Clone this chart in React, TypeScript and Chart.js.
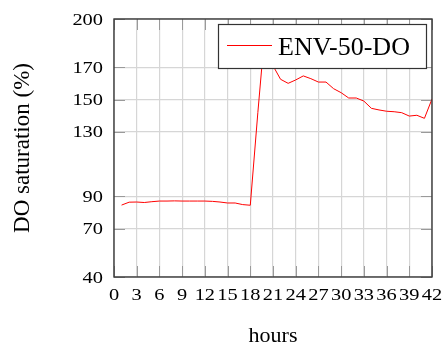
import { useEffect, useRef } from "react";
import { Chart, registerables } from "chart.js";

Chart.register(...registerables);

// Dissolved-oxygen saturation logged every hour
const hours = [
  1, 2, 3, 4, 5, 6, 7, 8, 9, 10, 11, 12, 13, 14, 15, 16, 17, 18, 19, 20, 21,
  22, 23, 24, 25, 26, 27, 28, 29, 30, 31, 32, 33, 34, 35, 36, 37, 38, 39, 40,
  41, 42,
];
const doSaturation = [
  84.6, 86.4, 86.5, 86.2, 86.7, 87.1, 87.1, 87.2, 87.1, 87.1, 87.1, 87.1, 86.9,
  86.5, 85.9, 85.9, 84.9, 84.5, 142, 196, 171, 162.6, 160.1, 162.2, 164.7,
  163.0, 160.9, 160.9, 156.8, 154.3, 151.0, 151.0, 149.1, 144.6, 143.6, 142.8,
  142.5, 141.9, 139.8, 140.3, 138.4, 150.4,
];
const xTicks = [0, 3, 6, 9, 12, 15, 18, 21, 24, 27, 30, 33, 36, 39, 42];
const yTicks = [40, 70, 90, 130, 150, 170, 200];
const seriesLabel = "ENV-50-DO";
const xTitle = "hours";
const yTitle = "DO saturation (%)";

const SERIF = "'Liberation Serif', 'Times New Roman', serif";

// draws a tick label with slightly widened digits
function wideText(ctx: CanvasRenderingContext2D, text: string, x: number, y: number) {
  ctx.save();
  ctx.translate(x, y);
  ctx.scale(1.2, 1);
  ctx.fillText(text, 0, 0);
  ctx.restore();
}

// pgfplots-like frame: inner tick marks on all four sides and a closed box
const framePlugin = {
  id: "frame",
  beforeDatasetsDraw(chart: any) {
    const { ctx, chartArea: a, scales } = chart;
    const len = 11;
    ctx.save();
    ctx.strokeStyle = "#9a9a9a";
    ctx.lineWidth = 1;
    ctx.beginPath();
    xTicks.forEach((v) => {
      const x = Math.round(scales.x.getPixelForValue(v)) + 0.5;
      ctx.moveTo(x, a.bottom);
      ctx.lineTo(x, a.bottom - len);
      ctx.moveTo(x, a.top);
      ctx.lineTo(x, a.top + len);
    });
    yTicks.forEach((v) => {
      const y = Math.round(scales.y.getPixelForValue(v)) + 0.5;
      ctx.moveTo(a.left, y);
      ctx.lineTo(a.left + len, y);
      ctx.moveTo(a.right, y);
      ctx.lineTo(a.right - len, y);
    });
    ctx.stroke();
    ctx.restore();
  },
  afterDatasetsDraw(chart: any) {
    const { ctx, chartArea: a, scales } = chart;
    ctx.save();
    ctx.strokeStyle = "#3a3a3a";
    ctx.lineWidth = 1.4;
    ctx.strokeRect(a.left, a.top, a.right - a.left, a.bottom - a.top);

    // tick labels
    ctx.fillStyle = "#000";
    ctx.font = `17px ${SERIF}`;
    ctx.textBaseline = "alphabetic";
    ctx.textAlign = "center";
    xTicks.forEach((v) => {
      wideText(ctx, String(v), scales.x.getPixelForValue(v), a.bottom + 23);
    });
    ctx.textAlign = "right";
    yTicks.forEach((v) => {
      wideText(ctx, String(v), a.left - 11, scales.y.getPixelForValue(v) + 5.5);
    });

    // legend box in the upper right corner of the plot
    const ds = chart.data.datasets[0];
    const bx = 218, by = 24, bw = 208, bh = 44;
    ctx.fillStyle = "#ffffff";
    ctx.fillRect(bx, by, bw, bh);
    ctx.strokeStyle = "#333333";
    ctx.lineWidth = 1.2;
    ctx.strokeRect(bx + 0.5, by + 0.5, bw, bh);
    ctx.strokeStyle = ds.borderColor;
    ctx.lineWidth = 1;
    ctx.beginPath();
    ctx.moveTo(bx + 9, by + 21.5);
    ctx.lineTo(bx + 54, by + 21.5);
    ctx.stroke();
    ctx.fillStyle = "#000";
    ctx.font = `26px ${SERIF}`;
    ctx.textAlign = "left";
    ctx.fillText(ds.label, bx + 60, by + 31);

    // axis titles
    ctx.font = `22px ${SERIF}`;
    ctx.textAlign = "center";
    ctx.fillText(xTitle, (a.left + a.right) / 2, 342);
    ctx.font = `23px ${SERIF}`;
    ctx.translate(29, (a.top + a.bottom) / 2);
    ctx.rotate(-Math.PI / 2);
    ctx.fillText(yTitle, 0, 0);
    ctx.restore();
  },
};

export default function App() {
  const ref = useRef<HTMLCanvasElement>(null);

  useEffect(() => {
    document.body.style.margin = "0";
    const canvas = ref.current;
    if (!canvas) return;
    const chart = new Chart(canvas, {
      type: "line",
      data: {
        datasets: [
          {
            label: seriesLabel,
            data: hours.map((h, i) => ({ x: h, y: doSaturation[i] })),
            borderColor: "#ff0000",
            borderWidth: 1,
            pointRadius: 0,
            tension: 0,
            fill: false,
          },
        ],
      },
      options: {
        responsive: false,
        animation: false,
        devicePixelRatio: 1,
        layout: { padding: { top: 19, right: 12, left: 0, bottom: 0 } },
        plugins: {
          legend: { display: false },
          tooltip: { enabled: false },
        },
        scales: {
          x: {
            type: "linear",
            min: 0,
            max: 42,
            afterBuildTicks: (s: any) => {
              s.ticks = xTicks.map((v) => ({ value: v }));
            },
            afterFit: (s: any) => {
              s.height = 68;
            },
            grid: { color: "#d6d6d6", lineWidth: 1.2, drawTicks: false },
            border: { display: false },
            ticks: { display: false },
          },
          y: {
            type: "linear",
            min: 40,
            max: 200,
            afterBuildTicks: (s: any) => {
              s.ticks = yTicks.map((v) => ({ value: v }));
            },
            afterFit: (s: any) => {
              s.width = 114;
            },
            grid: { color: "#d6d6d6", lineWidth: 1.2, drawTicks: false },
            border: { display: false },
            ticks: { display: false },
          },
        },
      },
      plugins: [framePlugin],
    });
    return () => chart.destroy();
  }, []);

  return (
    <div style={{ width: 444, height: 345, background: "#fff" }}>
      <canvas ref={ref} width={444} height={345} />
    </div>
  );
}
